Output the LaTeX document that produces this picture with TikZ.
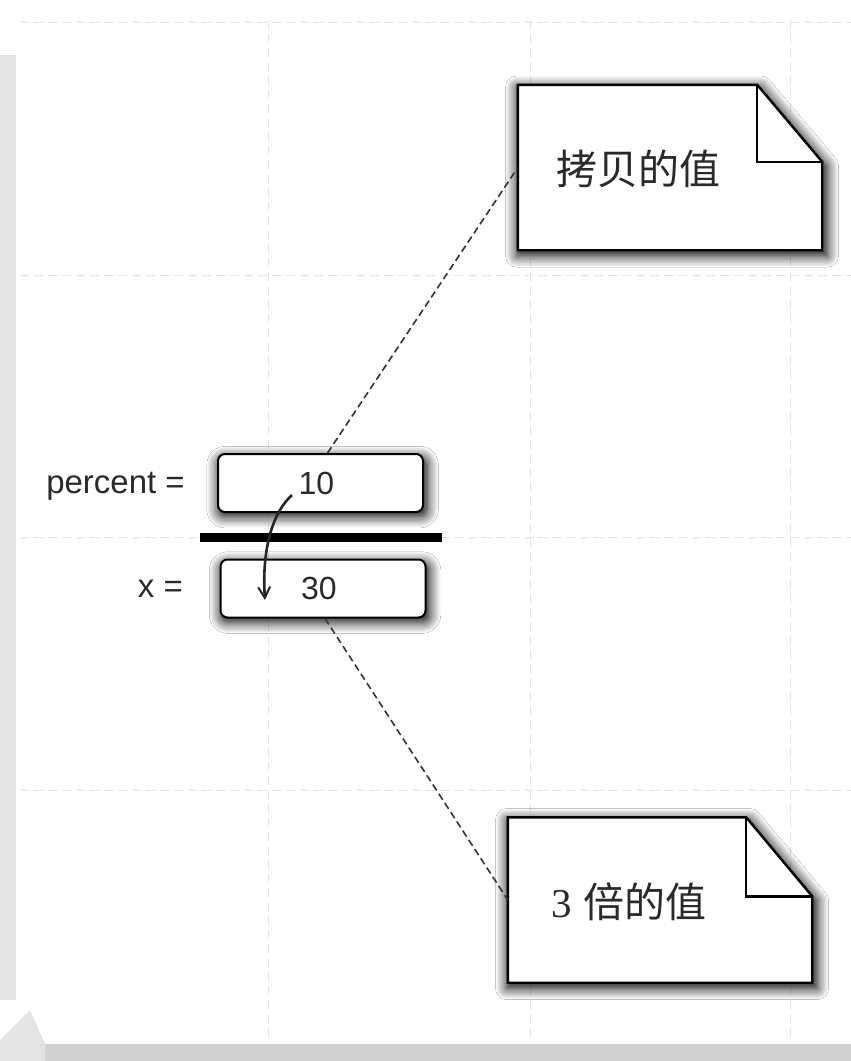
\documentclass[tikz,border=0pt]{standalone}
\usepackage{fontspec}
\setmainfont{Liberation Sans}
\newfontfamily\cjkfont{Noto Sans CJK SC}
\newfontfamily\serifnum{Liberation Serif}
\usetikzlibrary{shadows.blur,arrows.meta}
\definecolor{ink}{HTML}{2A2A2A}
\tikzset{
  gridline/.style={gray!22, line width=1pt, dash pattern=on 9pt off 5pt},
  myshadow/.style={blur shadow={shadow xshift=2pt, shadow yshift=-4pt, shadow blur radius=11pt, shadow blur steps=10, shadow opacity=100, shadow scale=1.02}},
  valbox/.style={draw=black, line width=2pt, fill=white, rounded corners=7pt, myshadow,
    minimum width=205pt, minimum height=58pt, inner sep=0pt, text=ink, font=\fontsize{32}{34}\selectfont},
  lbl/.style={anchor=east, inner sep=0pt, text=ink, font=\fontsize{33}{35}\selectfont},
  notearea/.style={minimum width=304pt, minimum height=165pt, inner sep=0pt},
  noteline/.style={draw=black, line width=2.4pt, fill=white, line join=miter, myshadow},
  foldline/.style={draw=black, line width=2.4pt},
  notetext/.style={inner sep=0pt, text=ink, font=\fontsize{41}{44}\selectfont},
  link/.style={draw=black!80, line width=1.6pt, dash pattern=on 7pt off 4pt},
  copyarrow/.style={draw=black!85, line width=2.6pt, -{Straight Barb[length=11pt,width=12pt,line width=2pt]}},
  bar/.style={draw=black, line width=9pt}
}
\begin{document}
\begin{tikzpicture}[x=1pt,y=-1pt]
\useasboundingbox (0,0) rectangle (851,1061);
\fill[white] (0,0) rectangle (851,1061);
% faint background grid of the scanned page
\draw[gridline] (268,20) -- (268,1040);
\draw[gridline] (530,20) -- (530,1040);
\draw[gridline] (790,20) -- (790,1040);
\draw[gridline] (20,22) -- (851,22);
\draw[gridline] (20,275) -- (851,275);
\draw[gridline] (20,537) -- (851,537);
\draw[gridline] (20,790) -- (851,790);
% scan edges
\fill[gray!22] (0,55) rectangle (16,1000);
\fill[gray!35] (45,1044) rectangle (851,1061);
\fill[gray!22] (0,1061) -- (0,1040) -- (30,1010) -- (45,1044) -- (45,1061) -- cycle;

% value boxes
\node[valbox] (b1) at (320.5,483) {\hspace*{-8pt}10};
\node[valbox] (b2) at (323,588.5) {\hspace*{-8pt}30};
\node[lbl] (l1) at (185,486) {percent =};
\node[lbl] (l2) at (183,589) {x =};
\coordinate (barL) at (200,537);
\coordinate (barR) at (442,537);
\draw[bar] (barL) -- (barR);

% copy arrow
\coordinate (as) at (292,495);
\coordinate (ae) at (265,600);
\draw[copyarrow] (as) .. controls (270,515) and (262,555) .. (ae);

% notes
\node[notearea] (n1) at (670,167.5) {};
\draw[noteline] (n1.north west) -- ([xshift=-65pt]n1.north east) -- ([yshift=-77pt]n1.north east)
  -- (n1.south east) -- (n1.south west) -- cycle;
\draw[foldline] ([xshift=-65pt]n1.north east) -- ([xshift=-65pt,yshift=-77pt]n1.north east) -- ([yshift=-77pt]n1.north east);
\node[notetext] (t1) at (638,169) {\cjkfont 拷贝的值};

\node[notearea] (n2) at (660,900) {};
\draw[noteline] (n2.north west) -- ([xshift=-66pt]n2.north east) -- ([yshift=-79pt]n2.north east)
  -- (n2.south east) -- (n2.south west) -- cycle;
\draw[foldline] ([xshift=-66pt]n2.north east) -- ([xshift=-66pt,yshift=-79pt]n2.north east) -- ([yshift=-79pt]n2.north east);
\node[notetext] (t2) at (629,902) {{\serifnum 3} \cjkfont 倍的值};

% dashed links
\draw[link] ([xshift=7pt]b1.north) -- (n1.west);
\draw[link] ([xshift=2pt]b2.south) -- (n2.west);
\end{tikzpicture}
\end{document}
